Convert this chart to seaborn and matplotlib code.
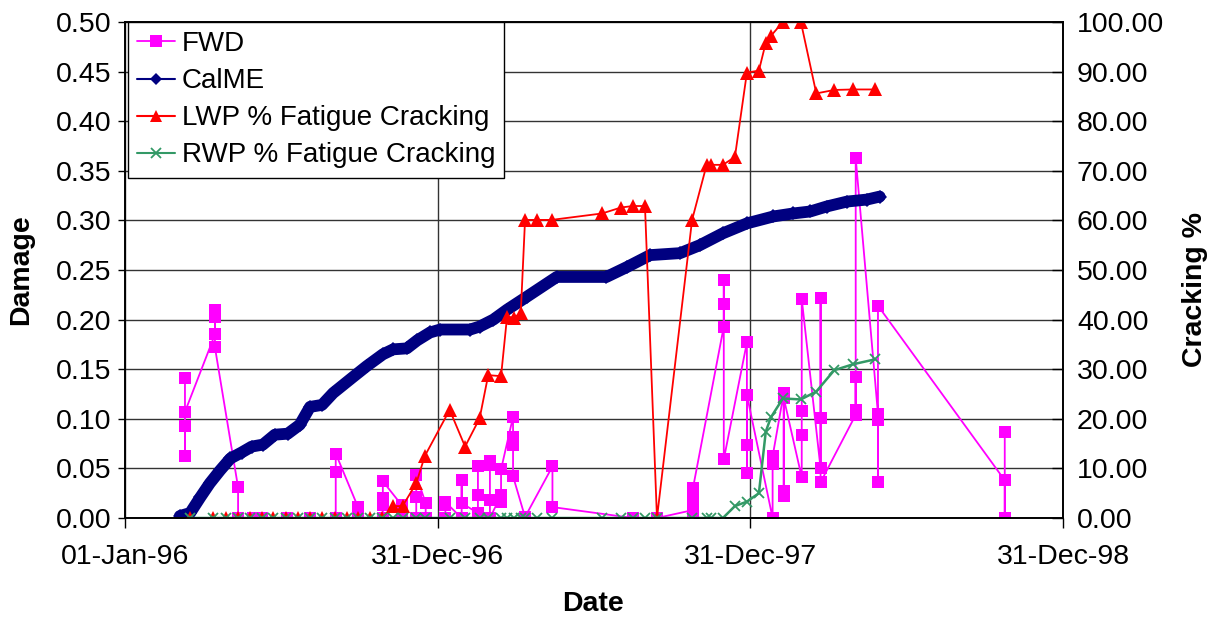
import numpy as np
import pandas as pd
import seaborn as sns
import matplotlib.pyplot as plt
from matplotlib.lines import Line2D
from matplotlib.ticker import FormatStrFormatter

# Data (days counted from 01-Jan-96)
fwd_day = [70, 70, 70, 70,
           105, 105, 105, 105,
           132, 132, 149, 160, 189, 216,
           246, 246, 246, 272, 272,
           301, 301, 301, 301, 323, 323,
           340, 340, 340, 351, 351,
           374, 374, 374, 393, 393, 393,
           412, 412, 412, 412, 426, 426, 426, 426,
           439, 439, 439, 453, 453, 453, 453,
           467, 499, 499, 593, 621,
           663, 663, 663, 663, 699, 699, 699, 699,
           726, 726, 726, 726, 756, 756, 756,
           769, 769, 769, 769, 790, 790, 790, 790,
           812, 812, 812, 812, 853, 853, 853, 853,
           879, 879, 879, 879, 1027, 1027, 1027]
fwd_val = [0.141, 0.063, 0.093, 0.107,
           0.185, 0.210, 0.203, 0.172,
           0.031, 0.000, 0.000, 0.000, 0.000, 0.000,
           0.000, 0.046, 0.065, 0.011, 0.000,
           0.000, 0.013, 0.020, 0.037, 0.013, 0.000,
           0.000, 0.021, 0.043, 0.015, 0.000,
           0.000, 0.013, 0.016, 0.000, 0.038, 0.015,
           0.005, 0.000, 0.023, 0.052, 0.057, 0.053, 0.018, 0.000,
           0.023, 0.016, 0.049, 0.102, 0.082, 0.074, 0.042,
           0.001, 0.052, 0.011, 0.000, 0.000,
           0.008, 0.000, 0.018, 0.030, 0.193, 0.240, 0.216, 0.059,
           0.177, 0.045, 0.074, 0.124, 0.000, 0.054, 0.062,
           0.126, 0.022, 0.027, 0.121, 0.041, 0.084, 0.108, 0.221,
           0.050, 0.222, 0.101, 0.036, 0.104, 0.142, 0.109, 0.363,
           0.105, 0.036, 0.099, 0.214, 0.038, 0.000, 0.087]

cal_day = [64, 76, 88, 99, 111, 123, 136, 148, 161, 175, 190, 204, 216, 230,
           243, 266, 282, 301, 313, 329, 341, 356, 368, 403, 414, 430, 446,
           469, 504, 562, 586, 613, 648, 671, 698, 726, 757, 780, 800, 819,
           843, 866, 881]
cal_val = [0.002, 0.005, 0.021, 0.035, 0.048, 0.060, 0.066, 0.072, 0.074,
           0.084, 0.085, 0.094, 0.112, 0.114, 0.126, 0.142, 0.153, 0.165,
           0.170, 0.171, 0.179, 0.187, 0.190, 0.190, 0.193, 0.200, 0.210,
           0.223, 0.243, 0.243, 0.253, 0.265, 0.267, 0.275, 0.287, 0.297,
           0.304, 0.307, 0.309, 0.314, 0.319, 0.321, 0.324]

survey_day = [76, 103, 118, 132, 146, 160, 173, 188, 202, 216, 230, 245,
              259, 272, 286, 300, 313, 324, 340, 350, 379, 397, 414, 424,
              439, 446, 454, 462, 467, 481, 498, 557, 579, 593, 607, 621,
              662, 679, 684, 698, 712, 726, 740, 748, 754, 768, 789, 807,
              828, 850, 876]
lwp = [0, 0, 0, 0, 0, 0, 0, 0, 0, 0, 0, 0, 0, 0, 0, 0,
       2.4, 2.4, 7.0, 12.5, 21.8, 14.4, 20.1, 28.8, 28.6, 40.6, 40.4, 41.3,
       60.1, 60.1, 60.1, 61.4, 62.6, 62.9, 62.9, 0.0,
       60.1, 71.2, 71.2, 71.2, 72.8, 89.8, 90.2, 95.8, 97.2, 100.0,
       100.0, 85.6, 86.3, 86.4, 86.4]
rwp = [0, 0, 0, 0, 0, 0, 0, 0, 0, 0, 0, 0, 0, 0, 0, 0,
       0, 0, 0, 0, 0, 0, 0, 0, 0, 0, 0, 0, 0, 0, 0, 0, 0, 0, 0, 0,
       0, 0, 0, 0, 2.4, 3.3, 5.0, 17.4, 20.3, 24.1,
       23.9, 25.5, 29.8, 31.0, 32.0]

tick_labels = ["01-Jan-96", "31-Dec-96", "31-Dec-97", "31-Dec-98"]

start = pd.Timestamp("1996-01-01")


def to_dates(days):
    return start + pd.to_timedelta(days, unit="D")


sns.set_style("white")
plt.rcParams["font.family"] = ["Liberation Sans", "DejaVu Sans"]
plt.rcParams["text.color"] = "black"
plt.rcParams["axes.labelcolor"] = "black"

fig = plt.figure(figsize=(12.17, 6.18), dpi=100)
ax = fig.add_axes([125 / 1217, 1 - 518 / 618, 938 / 1217, 496 / 618])

# FWD
sns.lineplot(x=to_dates(fwd_day), y=fwd_val, ax=ax, sort=False, estimator=None,
             color="#FF00FF", lw=1.3, marker="s", markersize=8,
             markeredgewidth=0, legend=False)

# CalME
sns.lineplot(x=to_dates(cal_day), y=cal_val, ax=ax, sort=False, estimator=None,
             color="#000080", lw=8.5, marker="D", markersize=7,
             markeredgewidth=0, legend=False, solid_capstyle="round")

ax2 = ax.twinx()
sns.lineplot(x=to_dates(survey_day), y=lwp, ax=ax2, sort=False, estimator=None,
             color="#FF0000", lw=1.3, marker="^", markersize=10,
             markeredgewidth=0, legend=False)
sns.lineplot(x=to_dates(survey_day), y=rwp, ax=ax2, sort=False, estimator=None,
             color="#339966", lw=1.8, marker="x", markersize=7.5,
             markeredgewidth=1.3, markeredgecolor="#339966", legend=False)

tick_dates = pd.to_datetime(tick_labels, format="%d-%b-%y")
ax.set_xlim(tick_dates[0], tick_dates[-1])
ax.set_xticks(tick_dates)
ax.set_xticklabels(tick_labels)

ax.set_ylim(0, 0.5)
ax.set_yticks(np.arange(0, 0.501, 0.05))
ax.yaxis.set_major_formatter(FormatStrFormatter("%.2f"))
ax2.set_ylim(0, 100)
ax2.set_yticks(np.arange(0, 101, 10))
ax2.yaxis.set_major_formatter(FormatStrFormatter("%.2f"))

ax.grid(True, color="#333333", lw=1)
ax2.grid(False)

for a in (ax, ax2):
    for s in a.spines.values():
        s.set_color("black")
        s.set_linewidth(1.2)

ax.tick_params(axis="y", direction="out", length=5, width=1, pad=5,
               labelsize=20.5, left=True, colors="black")
ax.tick_params(axis="x", direction="out", length=7, width=1, pad=12,
               labelsize=20.5, bottom=True, colors="black")
ax2.tick_params(axis="y", direction="in", length=8, width=1, pad=10,
                labelsize=20.5, right=True, colors="black")

ax.set_xlabel("Date", fontsize=20.5, fontweight="bold", color="black")
ax.xaxis.set_label_coords(0.499, -0.148)
ax.set_ylabel("Damage", fontsize=20.5, fontweight="bold", color="black")
ax.yaxis.set_label_coords(-0.097, 0.5)
ax2.set_ylabel("Cracking %", fontsize=20.5, fontweight="bold", color="black")
ax2.yaxis.set_label_coords(1.127, 0.46)

handles = [
    Line2D([], [], color="#FF00FF", lw=1.3, marker="s", markersize=8, mew=0),
    Line2D([], [], color="#000080", lw=1.5, marker="D", markersize=6.5, mew=0),
    Line2D([], [], color="#FF0000", lw=1.5, marker="^", markersize=9, mew=0),
    Line2D([], [], color="#339966", lw=1.5, marker="x", markersize=7.5, mew=1.3),
]
labels = ["FWD", "CalME", "LWP % Fatigue Cracking", "RWP % Fatigue Cracking"]
leg = ax2.legend(handles, labels, loc="upper left",
                 bbox_to_anchor=(128 / 1217, 1 - 22 / 618),
                 bbox_transform=fig.transFigure, borderaxespad=0,
                 fontsize=20, frameon=True, fancybox=False, edgecolor="black",
                 framealpha=1, handlelength=1.35, handletextpad=0.25,
                 labelspacing=0.4, borderpad=0.33)
leg.get_frame().set_linewidth(1.0)
for t in leg.get_texts():
    t.set_color("black")

fig.savefig("out.png", dpi=100)
